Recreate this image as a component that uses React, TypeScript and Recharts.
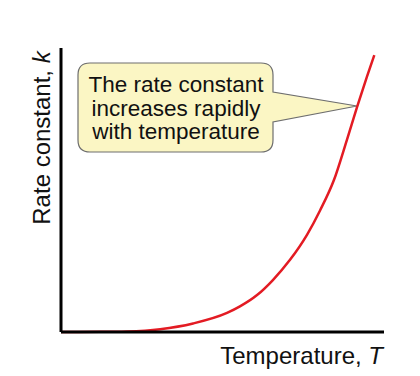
import React from 'react';
import { LineChart, Line, XAxis, YAxis, Customized } from 'recharts';

const temperature = [0, 12.1, 20.4, 30.7, 40.9, 51.4, 55.4, 60.7, 65.6, 70.9, 76.2, 80.2, 84.5, 88.5, 91.6, 94.7, 97.0];
const rateConstant = [0, 0.05, 0.2, 1.0, 3.0, 6.7, 9.0, 13.0, 18.3, 25.4, 34.3, 42.8, 53.5, 67.6, 79.0, 89.8, 97.5];
const calloutLines = ['The rate constant', 'increases rapidly', 'with temperature'];
const xTitle = 'Temperature, ';
const yTitle = 'Rate constant, ';

const data = temperature.map((t, i) => ({ t, k: rateConstant[i] }));

const FONT = '"Liberation Sans", Arial, sans-serif';

const Annotations = () => (
  <g>
    <path
      d="M 90 63 H 261 Q 273 63 273 75 V 92 L 357 106 L 273 122 V 140 Q 273 152 261 152 H 90 Q 78 152 78 140 V 75 Q 78 63 90 63 Z"
      fill="#fbf6c4"
      stroke="#6e6e6e"
      strokeWidth={1.2}
    />
    {calloutLines.map((s, i) => (
      <text key={i} x={176} y={92 + i * 23.5} textAnchor="middle" fontFamily={FONT} fontSize={22.5} fill="#111">
        {s}
      </text>
    ))}
    <text x={383} y={364} textAnchor="end" fontFamily={FONT} fontSize={24} fill="#111">
      {xTitle}
      <tspan fontStyle="italic">T</tspan>
    </text>
    <text x={50} y={138} transform="rotate(-90, 50, 138)" textAnchor="middle" fontFamily={FONT} fontSize={24} fill="#111">
      {yTitle}
      <tspan fontStyle="italic">k</tspan>
    </text>
  </g>
);

export default function App() {
  return (
    <div style={{ position: 'absolute', left: 0, top: 0, width: 420, height: 376, background: '#fff' }}>
      <LineChart width={420} height={376} data={data} margin={{ top: 48, right: 36, bottom: 43, left: 60 }}>
        <XAxis
          type="number"
          dataKey="t"
          domain={[0, 100]}
          height={1}
          tick={false}
          tickLine={false}
          axisLine={{ stroke: '#000', strokeWidth: 3 }}
        />
        <YAxis
          type="number"
          domain={[0, 100]}
          width={1}
          tick={false}
          tickLine={false}
          axisLine={{ stroke: '#000', strokeWidth: 3 }}
        />
        <Line
          type="monotone"
          dataKey="k"
          stroke="#e31b23"
          strokeWidth={2.5}
          dot={false}
          isAnimationActive={false}
        />
        <Customized component={Annotations} />
      </LineChart>
    </div>
  );
}
